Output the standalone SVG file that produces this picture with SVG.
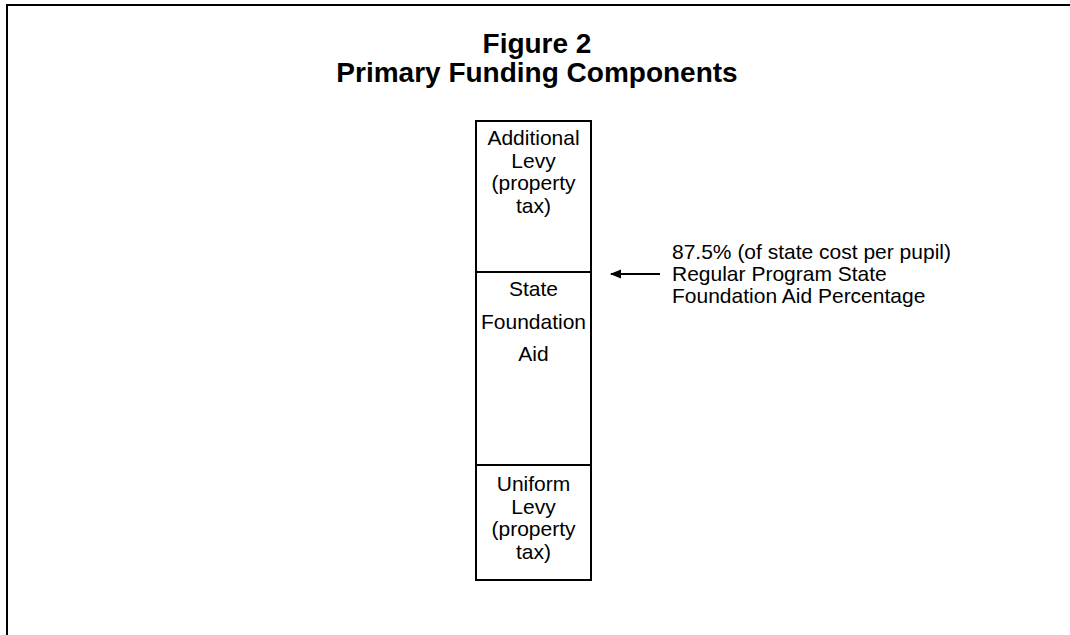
<svg xmlns="http://www.w3.org/2000/svg" width="1070" height="635" viewBox="0 0 1070 635">
<defs>
<style>
.t{font-family:"Liberation Sans",Arial,sans-serif;font-size:21px;fill:#000}
.c{text-anchor:middle}
.h{font-family:"Liberation Sans",Arial,sans-serif;font-size:28px;font-weight:bold;text-anchor:middle;fill:#000}
.b{fill:#fff;stroke:#000;stroke-width:2}
</style>
<marker id="ah" viewBox="0 0 11 10" refX="10" refY="5" markerWidth="11" markerHeight="10" markerUnits="userSpaceOnUse" orient="auto">
<path d="M0,0.5 L11,5 L0,9.5 Z" fill="#000"/>
</marker>
</defs>
<rect width="1070" height="635" fill="#fff"/>
<path d="M7,635 L7,5 L1070,5" fill="none" stroke="#000" stroke-width="2"/>
<g id="title">
<text class="h" x="537" y="53">Figure 2</text>
<text class="h" x="537" y="82">Primary Funding Components</text>
</g>
<g id="additional-levy">
<rect class="b" x="476" y="121" width="115" height="151"/>
<text class="t c" x="533.5" y="145">Additional</text>
<text class="t c" x="533.5" y="167.5">Levy</text>
<text class="t c" x="533.5" y="190">(property</text>
<text class="t c" x="533.5" y="212.5">tax)</text>
</g>
<g id="state-foundation-aid">
<rect class="b" x="476" y="272" width="115" height="193"/>
<text class="t c" x="533.5" y="296">State</text>
<text class="t c" x="533.5" y="328.5">Foundation</text>
<text class="t c" x="533.5" y="361">Aid</text>
</g>
<g id="uniform-levy">
<rect class="b" x="476" y="465" width="115" height="115"/>
<text class="t c" x="533.5" y="491">Uniform</text>
<text class="t c" x="533.5" y="513.5">Levy</text>
<text class="t c" x="533.5" y="536">(property</text>
<text class="t c" x="533.5" y="558.5">tax)</text>
</g>
<g id="annotation">
<text class="t" x="672" y="259">87.5% (of state cost per pupil)</text>
<text class="t" x="672" y="281">Regular Program State</text>
<text class="t" x="672" y="303">Foundation Aid Percentage</text>
</g>
<g id="connectors">
<line x1="660" y1="274" x2="611" y2="274" stroke="#000" stroke-width="2" marker-end="url(#ah)"/>
</g>
</svg>
